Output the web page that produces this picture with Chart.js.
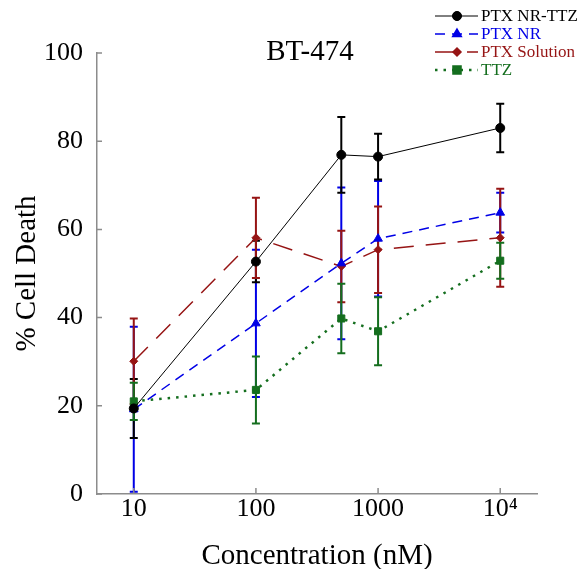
<!DOCTYPE html>
<html>
<head>
<meta charset="utf-8">
<script src="https://cdn.jsdelivr.net/npm/chart.js@4.4.0/dist/chart.umd.min.js"></script>
<style>
    body { margin: 0; background: #ffffff; }
    .chart { width: 581px; height: 569px; }
</style>
</head>
<body>
<div class="chart"><canvas id="bt474"></canvas></div>
<script>
// data
const concentrations = [10, 100, 500, 1000, 10000]
const x_ticks = [10, 100, 1000, 10000]
const x_tick_labels = ['10', '100', '1000', '10\u2074']
const y_ticks = [0, 20, 40, 60, 80, 100]

const ptx_nr_ttz = [19.4, 52.7, 76.9, 76.5, 83.0]
const ptx_nr_ttz_err = [6.7, 4.7, 8.6, 5.2, 5.5]
const ptx_nr = [19.2, 38.7, 52.3, 57.9, 63.8]
const ptx_nr_err = [18.7, 16.7, 17.2, 13.1, 4.5]
const ptx_solution = [30.1, 58.1, 51.6, 55.4, 58.1]
const ptx_solution_err = [9.7, 9.1, 8.1, 9.8, 11.1]
const ttz = [21.0, 23.6, 39.8, 36.9, 52.9]
const ttz_err = [4.2, 7.6, 7.9, 7.7, 4.1]

const serif = '"Liberation Serif", "Times New Roman", serif'
Chart.defaults.font.family = serif
Chart.defaults.color = '#000'

function makeDataset(label, values, errors, color, dash, width, style, radius) {
    return {
        label: label,
        data: values.map((v, i) => ({x: concentrations[i], y: v})),
        errors: errors,
        borderColor: color,
        backgroundColor: color,
        borderDash: dash,
        borderWidth: width,
        pointStyle: style,
        pointRadius: radius,
        pointBorderWidth: 1,
        tension: 0
    }
}

const errorBars = {
    id: 'errorBars',
    beforeDatasetsDraw(chart) {
        const ctx = chart.ctx
        const xs = chart.scales.x
        const ys = chart.scales.y
        const order = [1, 0, 2, 3]
        order.forEach((i) => {
            const ds = chart.data.datasets[i]
            ctx.save()
            ctx.strokeStyle = ds.borderColor
            ctx.lineWidth = 2
            ds.data.forEach((p, j) => {
                const px = xs.getPixelForValue(p.x)
                const top = ys.getPixelForValue(p.y + ds.errors[j])
                const bottom = ys.getPixelForValue(p.y - ds.errors[j])
                ctx.beginPath()
                ctx.moveTo(px, top)
                ctx.lineTo(px, bottom)
                ctx.moveTo(px - 4, top)
                ctx.lineTo(px + 4, top)
                ctx.moveTo(px - 4, bottom)
                ctx.lineTo(px + 4, bottom)
                ctx.stroke()
            })
            ctx.restore()
        })
    }
}

const extras = {
    id: 'extras',
    afterDraw(chart) {
        const ctx = chart.ctx
        const xs = chart.scales.x
        const ys = chart.scales.y
        const area = chart.chartArea

        // inward tick marks
        ctx.save()
        ctx.strokeStyle = '#8c8c8c'
        ctx.lineWidth = 1.5
        ctx.beginPath()
        y_ticks.forEach((v) => {
            const py = ys.getPixelForValue(v)
            ctx.moveTo(area.left, py)
            ctx.lineTo(area.left + 5, py)
        })
        x_ticks.forEach((v) => {
            const px = xs.getPixelForValue(v)
            ctx.moveTo(px, area.bottom)
            ctx.lineTo(px, area.bottom - 6)
        })
        ctx.stroke()
        ctx.restore()

        // title
        ctx.save()
        ctx.fillStyle = '#000'
        ctx.font = '29px ' + serif
        ctx.textAlign = 'center'
        ctx.textBaseline = 'alphabetic'
        ctx.fillText('BT-474', 310, 60)
        ctx.restore()

        // legend
        chart.data.datasets.forEach((ds, i) => {
            const ly = 16 + i * 18
            ctx.save()
            ctx.strokeStyle = ds.borderColor
            ctx.lineWidth = ds.borderWidth
            ctx.setLineDash(ds.borderDash)
            ctx.beginPath()
            ctx.moveTo(435, ly)
            ctx.lineTo(478, ly)
            ctx.stroke()
            ctx.setLineDash([])
            ctx.fillStyle = ds.backgroundColor
            Chart.helpers.drawPoint(ctx, {pointStyle: ds.pointStyle, radius: ds.pointRadius, borderWidth: 1}, 457, ly)
            ctx.fill()
            ctx.font = '17px ' + serif
            ctx.textAlign = 'left'
            ctx.textBaseline = 'middle'
            ctx.fillText(ds.label, 481, ly + 1)
            ctx.restore()
        })
    }
}

new Chart(document.getElementById('bt474'), {
    type: 'line',
    data: {
        datasets: [
            makeDataset('PTX NR-TTZ', ptx_nr_ttz, ptx_nr_ttz_err, '#000000', [], 1, 'circle', 4.5),
            makeDataset('PTX NR', ptx_nr, ptx_nr_err, '#0000e6', [10, 7], 1.5, 'triangle', 5),
            makeDataset('PTX Solution', ptx_solution, ptx_solution_err, '#961414', [20, 12], 1.5, 'rectRot', 4),
            makeDataset('TTZ', ttz, ttz_err, '#146e1e', [2.5, 6], 2.5, 'rect', 5)
        ]
    },
    options: {
        responsive: true,
        maintainAspectRatio: false,
        animation: false,
        layout: {
            padding: {left: 10, top: 53, right: 44, bottom: 0}
        },
        plugins: {
            legend: {display: false},
            title: {display: false},
            tooltip: {enabled: false}
        },
        scales: {
            x: {
                type: 'logarithmic',
                min: 5,
                max: 20000,
                afterBuildTicks: (scale) => {
                    scale.ticks = x_ticks.map((v) => ({value: v}))
                },
                afterFit: (scale) => {
                    scale.height = 75
                },
                grid: {display: false},
                border: {display: true, color: '#8c8c8c', width: 1.5},
                ticks: {
                    font: {size: 26},
                    padding: -8,
                    maxRotation: 0,
                    autoSkip: false,
                    callback: (value) => x_tick_labels[x_ticks.indexOf(value)]
                },
                title: {
                    display: true,
                    text: 'Concentration (nM)',
                    padding: 0,
                    font: {size: 29, lineHeight: 0.85}
                }
            },
            y: {
                min: 0,
                max: 100,
                afterBuildTicks: (scale) => {
                    scale.ticks = y_ticks.map((v) => ({value: v}))
                },
                afterFit: (scale) => {
                    scale.width = 87
                },
                grid: {display: false},
                border: {display: true, color: '#8c8c8c', width: 1.5},
                ticks: {
                    font: {size: 26},
                    padding: 6
                },
                title: {
                    display: true,
                    text: '% Cell Death',
                    padding: 0,
                    font: {size: 29, lineHeight: 1.2}
                }
            }
        }
    },
    plugins: [errorBars, extras]
})
</script>
</body>
</html>
